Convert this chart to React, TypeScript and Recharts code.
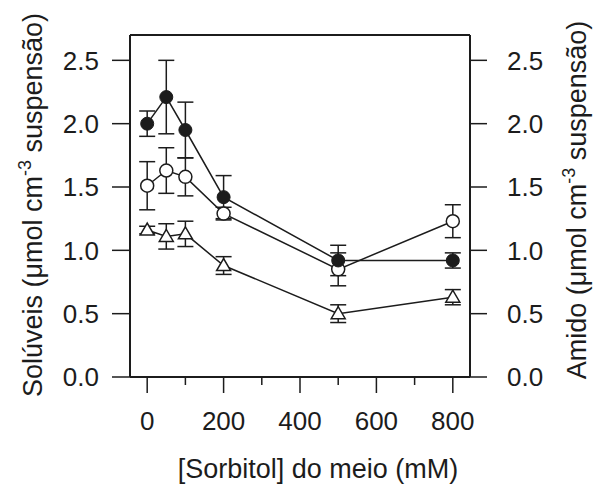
import { ComposedChart, Line, XAxis, YAxis, ErrorBar, Label } from "recharts";

// Sorbitol concentration in the medium (mM)
const sorbitol = [0, 50, 100, 200, 500, 800];

// filled circles
const filledMean = [2.0, 2.21, 1.95, 1.42, 0.92, 0.92];
const filledErr = [0.1, 0.29, 0.22, 0.17, 0.12, 0.06];

// open circles
const openMean = [1.51, 1.63, 1.58, 1.29, 0.85, 1.23];
const openErr = [0.19, 0.18, 0.15, 0.05, 0.13, 0.13];

// open triangles (starch, right axis)
const triMean = [1.16, 1.11, 1.13, 0.88, 0.5, 0.63];
const triErr = [0.03, 0.1, 0.1, 0.07, 0.07, 0.06];

const xTicks = [0, 100, 200, 300, 400, 500, 600, 700, 800];
const yTicks = [0, 0.5, 1.0, 1.5, 2.0, 2.5];

const data = sorbitol.map((s, i) => ({
  s,
  filled: filledMean[i],
  filledErr: filledErr[i],
  open: openMean[i],
  openErr: openErr[i],
  tri: triMean[i],
  triErr: triErr[i],
}));

const FONT = "'Liberation Sans', Arial, Helvetica, sans-serif";
const INK = "#1c1c1c";

// major ticks every 200 carry a label, minor ones in between are shorter
function XTick(props: any) {
  const { x, y, payload } = props;
  const v = payload.value;
  const major = v % 200 === 0;
  return (
    <g>
      <line x1={x} x2={x} y1={y} y2={y + (major ? 16 : 8)} stroke={INK} strokeWidth={1.5} />
      {major && (
        <text x={x} y={y + 53} textAnchor="middle" fontSize={26} fontFamily={FONT} fill={INK}>
          {v}
        </text>
      )}
    </g>
  );
}

const leftTitle = () => (
  <text
    transform="translate(42,205) rotate(-90)"
    textAnchor="middle"
    fontSize={27}
    fontFamily={FONT}
    fill={INK}
  >
    Solúveis (μmol cm
    <tspan dy={-11} fontSize={18}>-3</tspan>
    <tspan dy={11}> suspensão)</tspan>
  </text>
);

const rightTitle = () => (
  <text
    transform="translate(586,200) rotate(-90)"
    textAnchor="middle"
    fontSize={27}
    fontFamily={FONT}
    fill={INK}
  >
    Amido (μmol cm
    <tspan dy={-11} fontSize={18}>-3</tspan>
    <tspan dy={11}> suspensão)</tspan>
  </text>
);

const bottomTitle = () => (
  <text x={318} y={478} textAnchor="middle" fontSize={27} fontFamily={FONT} fill={INK}>
    [Sorbitol] do meio (mM)
  </text>
);

const filledDot = (p: any) => (
  <circle key={`f${p.index}`} cx={p.cx} cy={p.cy} r={6.5} fill={INK} stroke={INK} />
);

const openDot = (p: any) => (
  <circle key={`o${p.index}`} cx={p.cx} cy={p.cy} r={6.5} fill="#fff" stroke={INK} strokeWidth={1.5} />
);

const triDot = (p: any) => (
  <polygon
    key={`t${p.index}`}
    points={`${p.cx},${p.cy - 7} ${p.cx - 7},${p.cy + 5} ${p.cx + 7},${p.cy + 5}`}
    fill="#fff"
    stroke={INK}
    strokeWidth={1.5}
  />
);

const tickStyle = { fontSize: 26, fontFamily: FONT, fill: INK };

export default function App() {
  return (
    <div style={{ position: "absolute", left: 0, top: 0, background: "#fff" }}>
      <ComposedChart width={593} height={488} data={data} margin={{ top: 5, right: 0, bottom: 0, left: 0 }}>
        <XAxis
          xAxisId="top"
          orientation="top"
          type="number"
          dataKey="s"
          domain={[-45, 845]}
          tick={false}
          tickLine={false}
          height={30}
          axisLine={{ stroke: INK, strokeWidth: 2 }}
        />
        <XAxis
          type="number"
          dataKey="s"
          domain={[-45, 845]}
          ticks={xTicks}
          interval={0}
          tick={<XTick />}
          tickLine={false}
          tickSize={0}
          tickMargin={0}
          height={111}
          axisLine={{ stroke: INK, strokeWidth: 2 }}
        >
          <Label content={bottomTitle} />
        </XAxis>
        <YAxis
          yAxisId="left"
          domain={[0, 2.7]}
          ticks={yTicks}
          tickFormatter={(v: number) => v.toFixed(1)}
          width={130}
          tickSize={18}
          tickMargin={13}
          tick={tickStyle}
          tickLine={{ stroke: INK, strokeWidth: 1.5 }}
          axisLine={{ stroke: INK, strokeWidth: 2 }}
        >
          <Label content={leftTitle} />
        </YAxis>
        <YAxis
          yAxisId="right"
          orientation="right"
          domain={[0, 2.7]}
          ticks={yTicks}
          tickFormatter={(v: number) => v.toFixed(1)}
          width={123}
          tickSize={17}
          tickMargin={20}
          tick={tickStyle}
          tickLine={{ stroke: INK, strokeWidth: 1.5 }}
          axisLine={{ stroke: INK, strokeWidth: 2 }}
        >
          <Label content={rightTitle} />
        </YAxis>

        <Line
          yAxisId="right"
          dataKey="tri"
          stroke={INK}
          strokeWidth={1.5}
          dot={triDot}
          activeDot={false}
          isAnimationActive={false}
        >
          <ErrorBar dataKey="triErr" direction="y" width={8} stroke={INK} strokeWidth={1.5} />
        </Line>
        <Line
          yAxisId="left"
          dataKey="open"
          stroke={INK}
          strokeWidth={1.5}
          dot={openDot}
          activeDot={false}
          isAnimationActive={false}
        >
          <ErrorBar dataKey="openErr" direction="y" width={8} stroke={INK} strokeWidth={1.5} />
        </Line>
        <Line
          yAxisId="left"
          dataKey="filled"
          stroke={INK}
          strokeWidth={1.5}
          dot={filledDot}
          activeDot={false}
          isAnimationActive={false}
        >
          <ErrorBar dataKey="filledErr" direction="y" width={8} stroke={INK} strokeWidth={1.5} />
        </Line>
      </ComposedChart>
    </div>
  );
}
